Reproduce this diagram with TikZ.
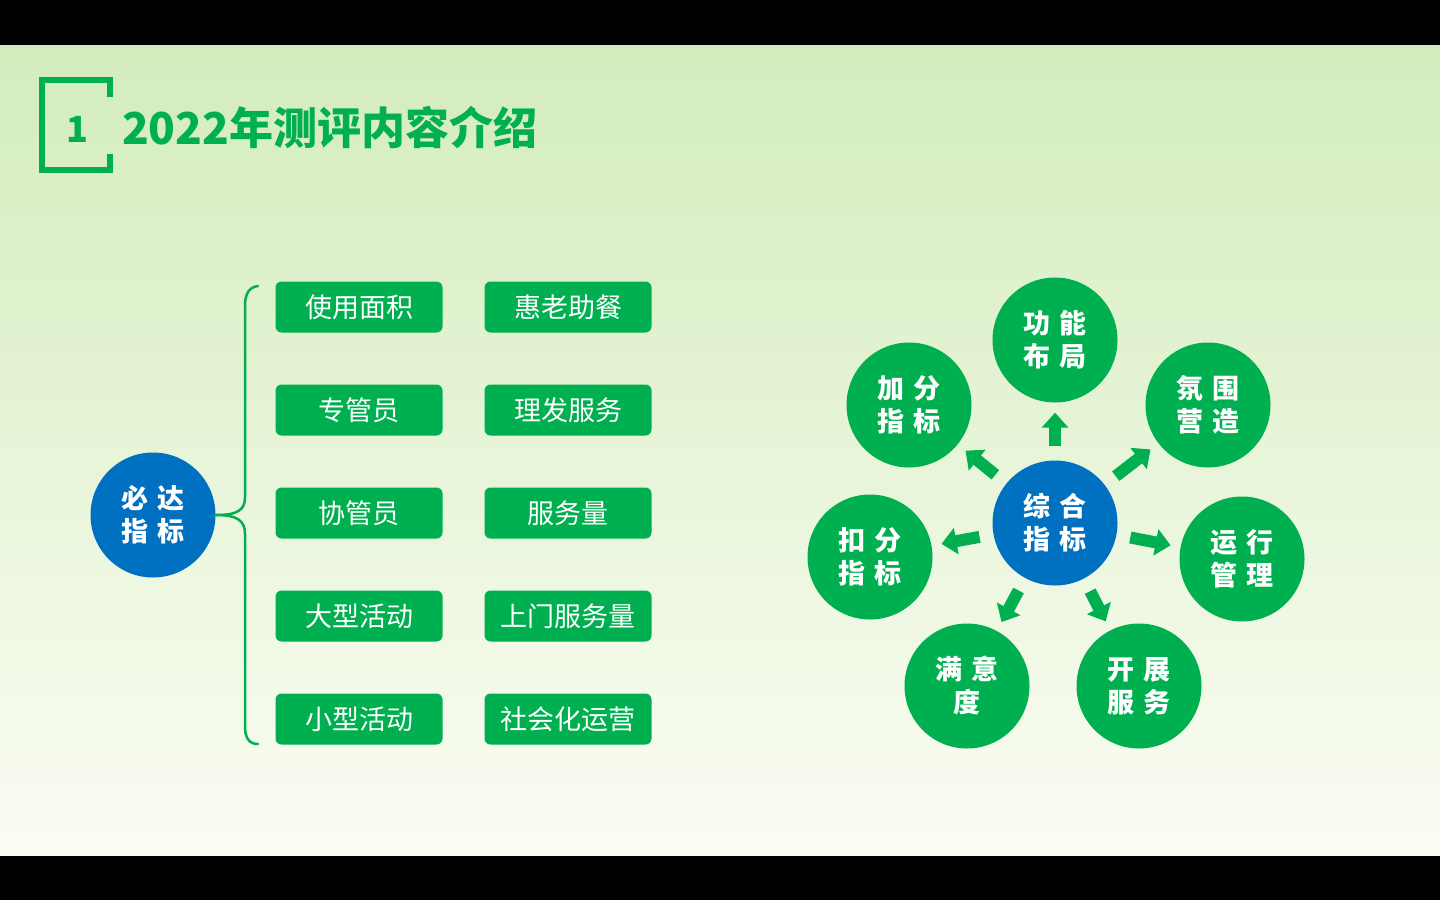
\documentclass[tikz,border=0pt]{standalone}
\usepackage{fontspec}
\setmainfont{Noto Sans CJK SC}
\usetikzlibrary{arrows.meta}
\definecolor{pgreen}{HTML}{00B050}
\definecolor{pblue}{HTML}{0070C0}
\definecolor{bgtop}{HTML}{D3ECBC}
\definecolor{bgbot}{HTML}{FBFDF4}
\newcommand{\cgap}{\hspace{0.3em}}
\tikzset{
  itembox/.style={fill=pgreen, rounded corners=6pt, minimum width=167pt, minimum height=51pt,
    inner sep=0pt, text=white, font=\fontsize{27}{32}\selectfont},
  ball/.style={circle, fill=pgreen, minimum size=125pt, inner sep=0pt, text=white,
    align=center, font=\bfseries\fontsize{27}{33}\selectfont},
  hub/.style={ball, fill=pblue},
  fat/.style={draw=pgreen, line width=12pt, -{Triangle[length=15pt,width=26pt]},
    shorten <=14pt, shorten >=10pt},
  brace/.style={draw=pgreen, line width=2.5pt, line cap=round}
}
\begin{document}
\begin{tikzpicture}[x=1pt,y=-1pt]
\useasboundingbox (0,0) rectangle (1440,900);
\fill[black] (0,0) rectangle (1440,45);
\fill[black] (0,855) rectangle (1440,900);
\shade[top color=bgtop, bottom color=bgbot] (0,45) rectangle (1440,855);

% heading
\draw[pgreen, line width=6pt] (110,97) -- (110,80) -- (42,80) -- (42,170) -- (110,170) -- (110,154);
\node[text=pgreen, font=\bfseries\fontsize{36}{40}\selectfont, anchor=base, inner sep=0pt] (num) at (77,142) {1};
\node[text=pgreen, font=\bfseries\fontsize{44}{48}\selectfont, anchor=base west, inner sep=0pt] (title) at (122,144) {2022年测评内容介绍};

% left: tree of items
\node[hub] (must) at (153,515) {必\cgap 达\\指\cgap 标};
\foreach \y/\a/\b [count=\i] in {307/使用面积/惠老助餐, 410/专管员/理发服务, 513/协管员/服务量,
    616/大型活动/上门服务量, 719/小型活动/社会化运营} {
  \node[itembox] (l\i) at (359,\y) {\a};
  \node[itembox] (r\i) at (568,\y) {\b};
}
\draw[brace] (258,286) .. controls (249,287) and (245,294) .. (245,306) -- (245,497)
  .. controls (245,510) and (238,515) .. (must.east);
\draw[brace] (must.east) .. controls (238,515) and (245,521) .. (245,534) -- (245,726)
  .. controls (245,738) and (249,744) .. (258,744);

% right: star of indicators
\node[hub] (core) at (1055,523) {综\cgap 合\\指\cgap 标};
\node[ball] (b1) at (1055,340) {功\cgap 能\\布\cgap 局};
\node[ball] (b2) at (1208,405) {氛\cgap 围\\营\cgap 造};
\node[ball] (b3) at (1242,559) {运\cgap 行\\管\cgap 理};
\node[ball] (b4) at (1139,686) {开\cgap 展\\服\cgap 务};
\node[ball] (b5) at (967,686) {满\cgap 意\\度};
\node[ball] (b6) at (870,557) {扣\cgap 分\\指\cgap 标};
\node[ball] (b7) at (909,405) {加\cgap 分\\指\cgap 标};
\foreach \n in {1,...,7}
  \draw[fat] (core) -- (b\n);
\end{tikzpicture}
\end{document}
